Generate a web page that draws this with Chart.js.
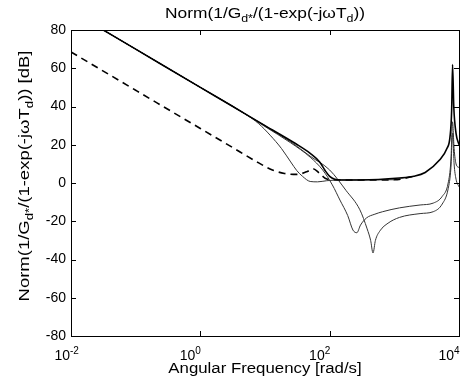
<!DOCTYPE html>
<html>
<head>
  <meta charset="UTF-8" />
  <title>Norm(1/Gd*/(1-exp(-jwTd))</title>
  <script src="https://cdn.jsdelivr.net/npm/chart.js@4.4.1/dist/chart.umd.min.js"></script>
  <style>
    body { margin: 0; background: #fff; }
    #plot { display: block; }
  </style>
</head>
<body>
  <canvas id="plot" width="473" height="385"></canvas>

  <script>
    // frequencies in rad/s, magnitudes in dB
    const wMain = [0.0316, 0.1, 1, 3, 10, 30, 50, 70, 85, 100, 120, 150, 300, 1200, 2000, 3000, 5000, 6500, 7250, 7700, 7950, 8300, 9000, 10000];
    const dbMain = [80, 70, 50, 40.5, 30, 20.5, 15.5, 11, 6.5, 3.5, 2, 1.6, 1.6, 2.6, 3.5, 5.5, 12, 18, 24, 38, 62, 40, 26, 20];

    const wFlat = [0.0316, 1, 5, 8, 12, 18, 25, 31, 38, 50, 65, 90, 150, 1000];
    const dbFlat = [80, 50, 36, 31, 25, 18, 11, 6.5, 3.5, 0.8, 0.6, 1.2, 1.6, 1.7];

    const wNotch1 = [0.0316, 1, 5, 10, 25, 50, 78, 110, 144, 190, 229, 263, 300, 370, 500, 660, 1200, 2500, 4000, 5500, 6800, 7500, 7950, 8400, 9000, 10000];
    const dbNotch1 = [80, 50, 36, 29.5, 21, 13.5, 6.8, -1, -8.9, -17, -24.6, -26, -22, -18.3, -16.3, -15, -13, -11.5, -10.5, -7, 0, 12, 32, 18, 10, 8];

    const wNotch2 = [0.0316, 1, 5, 10, 25, 50, 100, 180, 293, 380, 430, 468, 510, 600, 800, 1200, 2500, 4000, 5500, 6800, 7500, 7950, 8400, 9000, 10000];
    const dbNotch2 = [80, 50, 36, 30, 21.5, 14, 6.8, -4, -14, -24, -30, -36.6, -30, -25, -21, -18, -16, -15, -11, -3, 8, 26, 10, 2, -2];

    const wDash = [0.01, 0.1, 1, 3, 8, 13, 20, 31, 45, 55, 70, 85, 120, 300, 1000, 2000];
    const dbDash = [68.5, 48.5, 28.5, 19, 10.5, 6.8, 5, 4.5, 6, 7.5, 5, 2.5, 1.6, 1.6, 1.7, 3.5];

    const xTicks = [0.01, 1, 100, 10000];
    const xTickExp = ['-2', '0', '2', '4'];
    const yTicks = [-80, -60, -40, -20, 0, 20, 40, 60, 80];

    const FONT = '"Liberation Sans", Arial, Helvetica, sans-serif';

    function pts(ws, dbs) {
      return ws.map((w, i) => ({ x: w, y: dbs[i] }));
    }

    // text with sub/superscript pieces: [text, 'n' | 'sub' | 'sup']
    function pieceWidth(ctx, parts, size) {
      let wsum = 0;
      parts.forEach(p => {
        ctx.font = (p[1] == 'n' ? size : Math.round(size * 0.7)) + 'px ' + FONT;
        wsum += ctx.measureText(p[0]).width;
      });
      return wsum;
    }

    function drawPieces(ctx, parts, x, y, size, sx) {
      sx = sx || 1;
      ctx.save();
      ctx.translate(x, y);
      ctx.scale(sx, 1);
      let cx = 0;
      parts.forEach(p => {
        let dy = 0;
        if (p[1] == 'sub') dy = size * 0.3;
        if (p[1] == 'sup') dy = -size * 0.45;
        ctx.font = (p[1] == 'n' ? size : Math.round(size * 0.7)) + 'px ' + FONT;
        ctx.fillText(p[0], cx, dy);
        cx += ctx.measureText(p[0]).width;
      });
      ctx.restore();
    }

    const axesPlugin = {
      id: 'matlabAxes',
      afterDraw(chart) {
        const ctx = chart.ctx;
        const a = chart.chartArea;
        const xs = chart.scales.x;
        const ys = chart.scales.y;
        ctx.save();
        ctx.strokeStyle = '#000';
        ctx.fillStyle = '#000';
        ctx.lineWidth = 1;
        ctx.strokeRect(Math.round(a.left) + 0.5, Math.round(a.top) + 0.5,
          Math.round(a.right - a.left), Math.round(a.bottom - a.top));

        // tick marks, inside, on all four sides
        ctx.beginPath();
        yTicks.forEach(v => {
          const py = Math.round(ys.getPixelForValue(v)) + 0.5;
          ctx.moveTo(a.left, py); ctx.lineTo(a.left + 5, py);
          ctx.moveTo(a.right, py); ctx.lineTo(a.right - 5, py);
        });
        xTicks.forEach(v => {
          const px = Math.round(xs.getPixelForValue(v)) + 0.5;
          ctx.moveTo(px, a.bottom); ctx.lineTo(px, a.bottom - 5);
          ctx.moveTo(px, a.top); ctx.lineTo(px, a.top + 5);
        });
        ctx.stroke();

        // y tick labels
        ctx.textBaseline = 'middle';
        ctx.textAlign = 'right';
        ctx.font = '14px ' + FONT;
        yTicks.forEach(v => {
          ctx.fillText(String(v), a.left - 5, ys.getPixelForValue(v));
        });

        // x tick labels 10^n
        ctx.textBaseline = 'alphabetic';
        ctx.textAlign = 'left';
        xTicks.forEach((v, i) => {
          const px = xs.getPixelForValue(v);
          ctx.font = '14px ' + FONT;
          const mw = ctx.measureText('10').width;
          const right = xTickExp[i].startsWith('-') ? px - 1 : px - 5;
          drawPieces(ctx, [['10', 'n'], [xTickExp[i], 'sup']], right - mw, a.bottom + 24, 14);
        });

        // title
        const title = [['Norm(1/G', 'n'], ['d*', 'sub'], ['/(1-exp(-j\u03C9T', 'n'], ['d', 'sub'], ['))', 'n']];
        const cxMid = (a.left + a.right) / 2;
        const tw = pieceWidth(ctx, title, 14) * 1.24;
        drawPieces(ctx, title, cxMid - tw / 2, 18, 14, 1.24);

        // x label
        const xlab = [['Angular Frequency [rad/s]', 'n']];
        const xw = pieceWidth(ctx, xlab, 14) * 1.2;
        drawPieces(ctx, xlab, cxMid - xw / 2, a.bottom + 37, 14, 1.2);

        // y label, rotated
        const ylab = [['Norm(1/G', 'n'], ['d*', 'sub'], ['/(1-exp(-j\u03C9T', 'n'], ['d', 'sub'], ['))', 'n'], [' [dB]', 'n']];
        const yw = pieceWidth(ctx, ylab, 14) * 1.32;
        ctx.translate(29, (a.top + a.bottom) / 2 - 7);
        ctx.rotate(-Math.PI / 2);
        drawPieces(ctx, ylab, -yw / 2, 0, 14, 1.32);
        ctx.restore();
      }
    };

    const common = { pointRadius: 0, fill: false, cubicInterpolationMode: 'monotone' };

    new Chart(document.getElementById('plot').getContext('2d'), {
      type: 'line',
      data: {
        datasets: [
          Object.assign({ data: pts(wMain, dbMain), borderColor: '#000', borderWidth: 1.6 }, common),
          Object.assign({ data: pts(wFlat, dbFlat), borderColor: '#333', borderWidth: 1 }, common),
          Object.assign({ data: pts(wNotch1, dbNotch1), borderColor: '#333', borderWidth: 1 }, common),
          Object.assign({ data: pts(wNotch2, dbNotch2), borderColor: '#333', borderWidth: 1 }, common),
          Object.assign({ data: pts(wDash, dbDash), borderColor: '#000', borderWidth: 1.6, borderDash: [7, 5] }, common)
        ]
      },
      options: {
        responsive: false,
        animation: false,
        devicePixelRatio: 1,
        layout: { padding: { left: 71, right: 14, top: 30, bottom: 49 } },
        scales: {
          x: { type: 'logarithmic', min: 0.01, max: 10000, display: false },
          y: { type: 'linear', min: -80, max: 80, display: false }
        },
        plugins: { legend: { display: false }, tooltip: { enabled: false } }
      },
      plugins: [axesPlugin]
    });
  </script>
</body>
</html>
